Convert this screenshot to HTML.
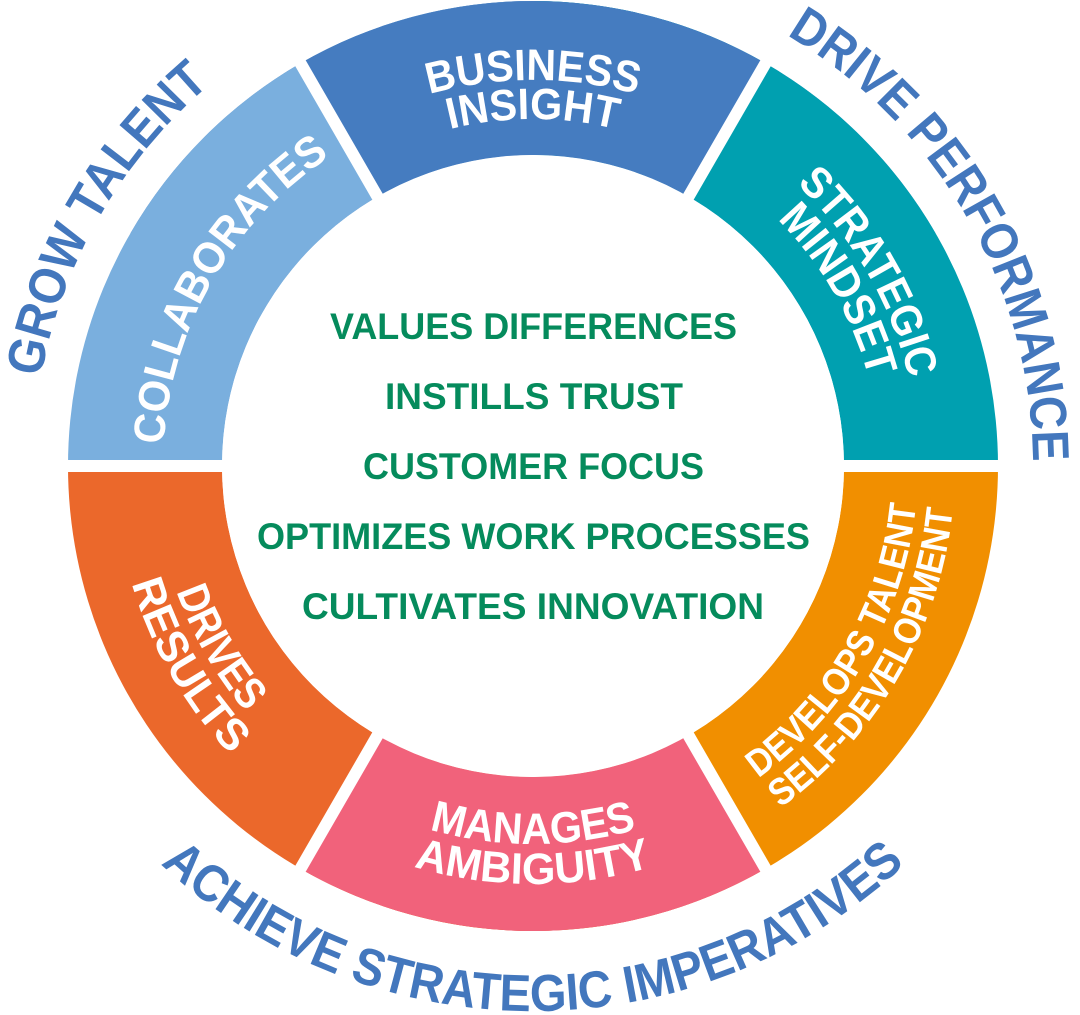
<!DOCTYPE html>
<html><head><meta charset="utf-8"><style>
html,body{margin:0;padding:0;background:#fff;}
svg{display:block;}
text{font-family:"Liberation Sans",sans-serif;font-weight:700;}
</style></head><body>
<svg width="1080" height="1015" viewBox="0 0 1080 1015" xmlns="http://www.w3.org/2000/svg">
<defs>
<path id="bi1" d="M 198.7 273 A 386 386 0 0 1 867.3 273"/>
<path id="bi2" d="M 232.5 292.5 A 347 347 0 0 1 833.5 292.5"/>
<path id="sm1" d="M 533 80 A 386 386 0 0 1 867.3 659"/>
<path id="sm2" d="M 533 119 A 347 347 0 0 1 833.5 639.5"/>
<path id="co1" d="M 212.6 651 A 370 370 0 0 1 533 96"/>
<path id="dr1" d="M 205.7 277 A 378 378 0 0 0 533 844"/>
<path id="dr2" d="M 171 257 A 418 418 0 0 0 533 884"/>
<path id="ma1" d="M 205.7 655 A 378 378 0 0 0 860.3 655"/>
<path id="ma2" d="M 171 675 A 418 418 0 0 0 895 675"/>
<path id="de1" d="M 533 851 A 385 385 0 0 0 866.4 273.5"/>
<path id="de2" d="M 533 888 A 422 422 0 0 0 898.5 255"/>
<path id="gt" d="M 100 716 A 500 500 0 0 1 533 -34"/>
<path id="dp" d="M 533 -34 A 500 500 0 0 1 966 716"/>
<path id="ac" d="M 61 738.5 A 545 545 0 0 0 1005 738.5"/>
</defs>
<!-- segments (annulus sectors) r 311..465, center 533,466 -->
<g>
<path d="M 130.3 233.5 A 465 465 0 0 1 935.7 233.5 L 802.3 310.5 A 311 311 0 0 0 263.7 310.5 Z" fill="#457cc0"/>
<path d="M 533 1 A 465 465 0 0 1 998 466 L 844 466 A 311 311 0 0 0 533 155 Z" fill="#00a0b0"/>
<path d="M 935.7 233.5 A 465 465 0 0 1 935.7 698.5 L 802.3 621.5 A 311 311 0 0 0 802.3 310.5 Z" fill="#00a0b0" opacity="0"/>
<path d="M 998 466 A 465 465 0 0 1 533 931 L 533 777 A 311 311 0 0 0 844 466 Z" fill="#f18f00"/>
<path d="M 300.5 868.7 A 465 465 0 0 0 765.5 868.7 L 688.5 735.3 A 311 311 0 0 1 377.5 735.3 Z" fill="#f1627b"/>
<path d="M 68 466 A 465 465 0 0 0 533 931 L 533 777 A 311 311 0 0 1 222 466 Z" fill="#eb682b"/>
<path d="M 533 1 A 465 465 0 0 0 68 466 L 222 466 A 311 311 0 0 1 533 155 Z" fill="#7aafde"/>
<!-- redraw top and bottom over side ones -->
<path d="M 300.5 63.3 A 465 465 0 0 1 765.5 63.3 L 688.5 196.7 A 311 311 0 0 0 377.5 196.7 Z" fill="#457cc0"/>
<path d="M 300.5 868.7 A 465 465 0 0 0 765.5 868.7 L 688.5 735.3 A 311 311 0 0 1 377.5 735.3 Z" fill="#f1627b"/>
</g>
<!-- gaps -->
<g stroke="#fff" stroke-width="12">
<line x1="533" y1="466" x2="1010" y2="466"/>
<line x1="533" y1="466" x2="56" y2="466"/>
<line x1="533" y1="466" x2="771.5" y2="52.9"/>
<line x1="533" y1="466" x2="294.5" y2="52.9"/>
<line x1="533" y1="466" x2="771.5" y2="879.1"/>
<line x1="533" y1="466" x2="294.5" y2="879.1"/>
</g>
<circle cx="533" cy="466" r="311" fill="#fff"/>

<!-- segment labels -->
<g fill="#fff" font-size="44">
<text><textPath href="#bi1" startOffset="50%" text-anchor="middle" textLength="210" lengthAdjust="spacingAndGlyphs">BUSINESS</textPath></text>
<text><textPath href="#bi2" startOffset="50%" text-anchor="middle" textLength="168" lengthAdjust="spacingAndGlyphs">INSIGHT</textPath></text>
<text><textPath href="#sm1" startOffset="50%" text-anchor="middle" textLength="228" lengthAdjust="spacingAndGlyphs">STRATEGIC</textPath></text>
<text><textPath href="#sm2" startOffset="50%" text-anchor="middle" textLength="185" lengthAdjust="spacingAndGlyphs">MINDSET</textPath></text>
<text><textPath href="#co1" startOffset="50%" text-anchor="middle" textLength="345" lengthAdjust="spacingAndGlyphs">COLLABORATES</textPath></text>
<text><textPath href="#dr1" startOffset="50%" text-anchor="middle" textLength="140" lengthAdjust="spacingAndGlyphs">DRIVES</textPath></text>
<text><textPath href="#dr2" startOffset="50%" text-anchor="middle" textLength="200" lengthAdjust="spacingAndGlyphs">RESULTS</textPath></text>
<text><textPath href="#ma1" startOffset="50%" text-anchor="middle" textLength="210" lengthAdjust="spacingAndGlyphs">MANAGES</textPath></text>
<text><textPath href="#ma2" startOffset="50%" text-anchor="middle" textLength="242" lengthAdjust="spacingAndGlyphs">AMBIGUITY</textPath></text>
</g>
<g fill="#fff" font-size="38">
<text><textPath href="#de1" startOffset="50%" text-anchor="middle" textLength="325" lengthAdjust="spacingAndGlyphs">DEVELOPS TALENT</textPath></text>
<text><textPath href="#de2" startOffset="50%" text-anchor="middle" textLength="355" lengthAdjust="spacingAndGlyphs">SELF-DEVELOPMENT</textPath></text>
</g>

<!-- outer labels -->
<g fill="#4377bd" font-size="52">
<text><textPath href="#gt" startOffset="50%" text-anchor="middle" textLength="345" lengthAdjust="spacingAndGlyphs">GROW TALENT</textPath></text>
<text><textPath href="#dp" startOffset="50%" text-anchor="middle" textLength="515" lengthAdjust="spacingAndGlyphs">DRIVE PERFORMANCE</textPath></text>
<text><textPath href="#ac" startOffset="50%" text-anchor="middle" textLength="820" lengthAdjust="spacingAndGlyphs">ACHIEVE STRATEGIC IMPERATIVES</textPath></text>
</g>

<!-- center text -->
<g fill="#058b5c" font-size="37">
<text x="330" y="339" textLength="407" lengthAdjust="spacingAndGlyphs">VALUES DIFFERENCES</text>
<text x="385" y="409" textLength="298" lengthAdjust="spacingAndGlyphs">INSTILLS TRUST</text>
<text x="363" y="479" textLength="341" lengthAdjust="spacingAndGlyphs">CUSTOMER FOCUS</text>
<text x="257" y="549" textLength="553" lengthAdjust="spacingAndGlyphs">OPTIMIZES WORK PROCESSES</text>
<text x="302" y="619" textLength="462" lengthAdjust="spacingAndGlyphs">CULTIVATES INNOVATION</text>
</g>
</svg>
</body></html>
